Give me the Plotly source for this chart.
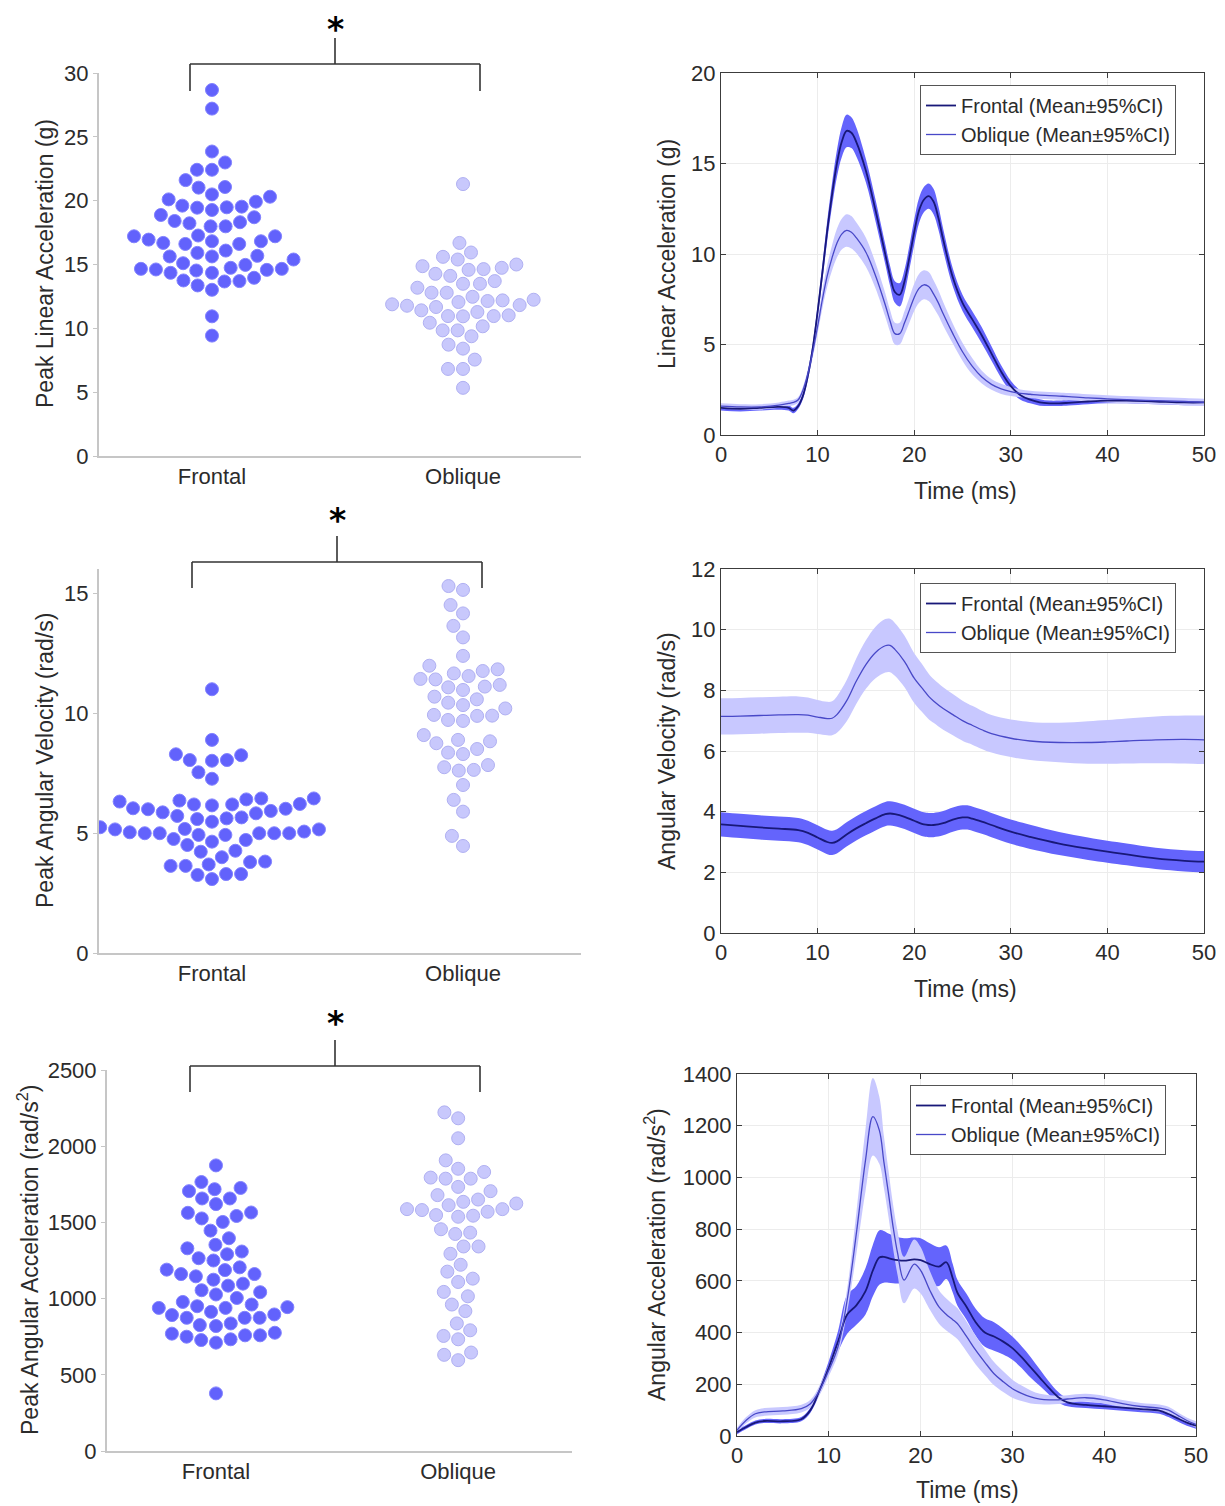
import numpy as np
import plotly.graph_objects as go

W, H = 1225, 1506          # reference page size
OFF = 8                    # page body margin of the browser
FW, FH = W - OFF, H - OFF  # figure size so that it ends at the window edge
FONT = "Liberation Sans, Arial, Helvetica, sans-serif"

# ---------------- data: peak values (beeswarm panels) ----------------
categories = ["Frontal", "Oblique"]

peak_lin_frontal = [28.67, 27.21, 23.85, 22.99, 22.42, 22.42, 21.61, 21.02, 21.07, 20.49, 20.31, 20.10,
                    19.92, 19.53, 19.45, 19.27, 19.48, 19.61, 18.70, 18.31, 18.23, 17.99, 17.99, 18.41,
                    18.88, 17.21, 16.82, 16.61, 17.21, 16.61, 16.95, 16.69, 16.82, 17.27, 15.63, 15.91,
                    15.39, 15.63, 16.09, 15.10, 15.68, 14.74, 14.66, 14.35, 14.97, 14.53, 14.35, 14.61,
                    14.58, 14.66, 13.75, 13.36, 13.02, 13.67, 13.70, 13.96, 10.94, 9.43]
peak_lin_oblique = [21.30, 16.69, 15.94, 15.39, 15.60, 15.00, 14.74, 14.58, 14.27, 14.11, 14.64, 14.87,
                    13.49, 13.49, 13.18, 13.70, 12.79, 12.79, 12.47, 12.24, 11.82, 12.19, 12.14, 12.06,
                    11.77, 11.41, 11.67, 11.88, 11.02, 10.96, 11.28, 10.94, 10.96, 10.44, 10.16, 9.84,
                    9.38, 9.84, 8.72, 8.41, 7.55, 6.82, 6.82, 5.34]

peak_vel_frontal = [10.99, 8.88, 8.28, 8.04, 8.01, 8.04, 8.24, 7.53, 7.26, 6.44, 6.03, 5.99, 6.44, 5.86,
                    6.31, 6.19, 5.61, 6.15, 6.40, 6.19, 6.35, 5.71, 5.58, 5.82, 5.47, 5.65, 5.92, 6.01,
                    6.21, 5.17, 5.03, 4.99, 4.99, 4.92, 4.71, 4.64, 5.24, 5.15, 4.92, 5.15, 4.75, 4.99,
                    4.99, 4.99, 5.06, 4.50, 4.22, 4.26, 3.99, 3.79, 3.81, 3.63, 3.63, 3.69, 3.25, 3.08,
                    3.29, 3.29]
peak_vel_oblique = [15.29, 15.13, 14.50, 14.15, 13.63, 13.15, 12.38, 11.82, 11.75, 11.65, 11.97, 11.40,
                    11.54, 11.42, 11.10, 11.07, 10.96, 11.17, 10.68, 10.57, 10.33, 10.43, 9.92, 9.88,
                    9.67, 9.71, 9.89, 10.19, 9.08, 8.74, 8.88, 8.35, 8.29, 8.50, 8.82, 7.74, 7.60, 7.63,
                    7.83, 7.00, 6.38, 5.89, 4.88, 4.46]

peak_acc_frontal = [1874, 1726, 1765, 1718, 1657, 1657, 1705, 1620, 1542, 1563, 1503, 1526, 1565, 1446,
                    1396, 1330, 1353, 1309, 1265, 1250, 1291, 1190, 1187, 1205, 1146, 1124, 1161, 1161,
                    1085, 1055, 1042, 1098, 1027, 1004, 944, 913, 896, 874, 837, 950, 939, 978, 820, 874,
                    874, 892, 939, 961, 826, 776, 759, 750, 728, 711, 733, 759, 770, 378]
peak_acc_oblique = [2222, 2183, 2052, 1907, 1794, 1787, 1787, 1831, 1852, 1733, 1705, 1679, 1650, 1624,
                    1587, 1570, 1548, 1537, 1587, 1544, 1581, 1613, 1635, 1433, 1424, 1455, 1342, 1294,
                    1342, 1222, 1177, 1131, 1109, 1015, 1044, 961, 918, 837, 755, 733, 792, 631, 596, 646]

# ---------------- data: time histories (mean and 95% CI half-width) ----------------
t_lin = [0, 2, 4, 6, 7, 7.5, 8, 8.5, 9, 9.5, 10, 10.5, 11, 11.5, 12, 12.5, 13, 13.5, 14, 15, 16, 17,
         17.5, 18, 18.5, 19, 19.5, 20, 20.5, 21, 21.5, 22, 22.5, 23, 24, 25, 26, 27, 28, 29, 30, 31,
         32, 33, 34, 35, 36, 38, 40, 42, 45, 48, 50]
lin_frontal_mean = [1.5, 1.45, 1.5, 1.55, 1.5, 1.35, 1.6, 2.2, 3.3, 4.8, 6.8, 9.0, 11.3, 13.3, 15.0,
                    16.2, 16.8, 16.7, 16.2, 14.6, 12.4, 10.0, 8.8, 7.9, 7.75, 8.5, 9.8, 11.2, 12.4,
                    13.0, 13.2, 12.9, 12.0, 10.8, 8.7, 7.3, 6.4, 5.5, 4.5, 3.5, 2.7, 2.2, 1.95, 1.8,
                    1.75, 1.75, 1.78, 1.85, 1.9, 1.9, 1.85, 1.8, 1.8]
lin_frontal_ci = [0.15, 0.15, 0.15, 0.15, 0.15, 0.15, 0.15, 0.2, 0.25, 0.3, 0.35, 0.45, 0.55, 0.65,
                  0.75, 0.85, 0.9, 0.85, 0.8, 0.65, 0.6, 0.55, 0.55, 0.6, 0.65, 0.65, 0.65, 0.7, 0.7,
                  0.7, 0.7, 0.7, 0.65, 0.6, 0.5, 0.45, 0.45, 0.45, 0.4, 0.35, 0.3, 0.25, 0.2, 0.18,
                  0.15, 0.15, 0.15, 0.15, 0.15, 0.15, 0.15, 0.15, 0.15]
lin_oblique_mean = [1.6, 1.55, 1.55, 1.65, 1.75, 1.8, 1.95, 2.5, 3.4, 4.6, 6.0, 7.5, 8.8, 9.8, 10.6,
                    11.1, 11.3, 11.2, 10.9, 10.1, 8.8, 7.2, 6.3, 5.6, 5.6, 6.2, 6.9, 7.6, 8.1, 8.3,
                    8.2, 7.8, 7.3, 6.7, 5.6, 4.6, 3.8, 3.2, 2.8, 2.55, 2.4, 2.3, 2.25, 2.2, 2.18, 2.15,
                    2.12, 2.05, 2.0, 1.95, 1.9, 1.85, 1.8]
lin_oblique_ci = [0.15, 0.15, 0.15, 0.15, 0.15, 0.15, 0.15, 0.2, 0.25, 0.3, 0.4, 0.5, 0.6, 0.7, 0.8,
                  0.85, 0.9, 0.9, 0.85, 0.8, 0.7, 0.65, 0.6, 0.6, 0.6, 0.65, 0.7, 0.75, 0.8, 0.8,
                  0.8, 0.75, 0.7, 0.65, 0.55, 0.5, 0.45, 0.35, 0.3, 0.28, 0.25, 0.22, 0.2, 0.2, 0.2,
                  0.2, 0.2, 0.2, 0.2, 0.2, 0.2, 0.2, 0.2]

t_vel = [0, 2, 4, 6, 8, 9, 10, 11, 11.5, 12, 13, 14, 15, 16, 17, 17.5, 18, 19, 20, 21, 21.5, 22, 23,
         24, 25, 25.5, 26, 27, 28, 30, 32, 35, 38, 40, 42, 45, 48, 50]
vel_oblique_mean = [7.14, 7.15, 7.17, 7.19, 7.2, 7.18, 7.12, 7.07, 7.08, 7.2, 7.65, 8.3, 8.85, 9.25,
                    9.47, 9.48, 9.35, 8.95, 8.4, 8.0, 7.8, 7.65, 7.4, 7.2, 7.0, 6.92, 6.85, 6.7, 6.57,
                    6.42, 6.33, 6.28, 6.28, 6.3, 6.33, 6.37, 6.38, 6.37]
vel_oblique_ci = [0.6, 0.6, 0.6, 0.6, 0.6, 0.58, 0.56, 0.55, 0.56, 0.6, 0.68, 0.75, 0.8, 0.85, 0.88,
                  0.88, 0.87, 0.85, 0.82, 0.78, 0.75, 0.72, 0.7, 0.68, 0.66, 0.65, 0.64, 0.63, 0.62,
                  0.62, 0.63, 0.65, 0.7, 0.72, 0.74, 0.77, 0.79, 0.8]
vel_frontal_mean = [3.58, 3.53, 3.48, 3.44, 3.39, 3.3, 3.15, 3.0, 2.97, 3.02, 3.25, 3.45, 3.62, 3.78,
                    3.92, 3.94, 3.92, 3.83, 3.7, 3.58, 3.56, 3.56, 3.62, 3.74, 3.81, 3.81, 3.77, 3.67,
                    3.56, 3.34, 3.17, 2.95, 2.78, 2.68, 2.59, 2.46, 2.38, 2.35]
vel_frontal_ci = [0.4] * 29 + [0.4, 0.4, 0.38, 0.37, 0.36, 0.36, 0.35, 0.35, 0.35]

t_acc = [0, 1, 2, 3, 5, 7, 8, 9, 10, 11, 12, 13, 14, 14.8, 15.5, 16, 16.5, 17, 17.5, 18.2, 19.3, 20,
         21, 22, 22.8, 23.5, 24, 25, 26, 27, 28, 29, 30, 31, 32, 33, 34, 35, 36, 38, 40, 42, 44, 46,
         47, 48, 49, 50]
acc_oblique_mean = [22, 61, 86, 93, 97, 106, 125, 177, 254, 345, 525, 783, 1067, 1235, 1183, 1060,
                    938, 810, 706, 603, 665, 641, 564, 499, 470, 450, 435, 385, 332, 285, 241, 210,
                    183, 165, 151, 143, 140, 140, 143, 148, 140, 125, 114, 108, 100, 80, 60, 45]
acc_oblique_ci = [10, 12, 14, 15, 15, 15, 15, 18, 22, 30, 45, 80, 120, 150, 130, 100, 90, 85, 85, 90,
                  95, 90, 75, 65, 62, 60, 60, 58, 55, 50, 45, 40, 35, 30, 25, 20, 18, 16, 15, 15, 15,
                  14, 14, 14, 13, 12, 12, 12]
acc_frontal_mean = [15, 35, 52, 58, 57, 65, 100, 177, 265, 365, 470, 505, 560, 640, 690, 693, 688,
                    683, 680, 678, 683, 680, 665, 655, 672, 610, 555, 500, 440, 400, 385, 365, 340,
                    305, 265, 225, 185, 150, 130, 120, 115, 110, 104, 98, 85, 68, 52, 40]
acc_frontal_ci = [8, 8, 8, 8, 8, 8, 10, 15, 25, 40, 75, 75, 90, 100, 105, 100, 95, 92, 90, 87, 85,
                  85, 80, 75, 65, 55, 50, 50, 52, 55, 55, 50, 45, 42, 40, 32, 25, 20, 15, 12, 12, 12,
                  12, 12, 12, 12, 12, 12]

# ---------------- styling ----------------
C_FRONT_DOT = "rgb(98,98,252)"
C_FRONT_DOT_EDGE = "rgb(130,130,255)"
C_OBL_DOT = "rgb(200,200,252)"
C_OBL_DOT_EDGE = "rgb(176,176,242)"
C_FRONT_BAND = "rgb(100,100,252)"
C_FRONT_LINE = "rgb(24,24,120)"
C_OBL_BAND = "rgb(200,200,255)"
C_OBL_LINE = "rgb(72,72,200)"
TXT = "#2b2b2b"


def px(x):
    return (x - OFF) / FW


def py(y):
    return 1 - (y - OFF) / FH


# panel boxes in page pixels: (left, right, top, bottom)
boxes = {
    1: (99, 581, 73, 456),
    2: (99, 581, 569, 953),
    3: (107, 572, 1070, 1451),
    4: (721, 1204, 73, 435),
    5: (721, 1204, 569, 933),
    6: (737, 1196, 1074, 1436),
}
left_yranges = {1: (0, 30), 2: (0, 16), 3: (0, 2500)}
left_dticks = {1: 5, 2: 5, 3: 500}
XR = (0.55, 2.47)


def swarm_offsets(values, ppu_y, ppu_x, d=15.0):
    vals = np.asarray(values, float)
    order = np.argsort(vals)
    placed = []
    offs = np.zeros(len(vals))
    for i in order:
        y = vals[i] * ppu_y
        cands = [0.0]
        for (qx, qy) in placed:
            dy = y - qy
            if abs(dy) < d:
                dx = np.sqrt(d * d - dy * dy)
                cands += [qx + dx, qx - dx]
        best = None
        for c in sorted(cands, key=lambda v: (abs(v), v)):
            ok = all((c - qx) ** 2 + (y - qy) ** 2 >= d * d - 1e-6 for (qx, qy) in placed)
            if ok:
                best = c
                break
        placed.append((best, y))
        offs[i] = best / ppu_x
    return offs


fig = go.Figure()

swarm_sets = {
    1: (peak_lin_frontal, peak_lin_oblique),
    2: (peak_vel_frontal, peak_vel_oblique),
    3: (peak_acc_frontal, peak_acc_oblique),
}
for k, (fr, ob) in swarm_sets.items():
    l, r, t, b = boxes[k]
    y0, y1 = left_yranges[k]
    ppu_y = (b - t) / (y1 - y0)
    ppu_x = (r - l) / (XR[1] - XR[0])
    sfx = "" if k == 1 else str(k)
    for idx, (vals, col, edge) in enumerate([(fr, C_FRONT_DOT, C_FRONT_DOT_EDGE),
                                             (ob, C_OBL_DOT, C_OBL_DOT_EDGE)]):
        offs = swarm_offsets(vals, ppu_y, ppu_x)
        fig.add_trace(go.Scatter(
            x=(idx + 1) + offs, y=vals, mode="markers", showlegend=False,
            marker=dict(size=13, color=col, line=dict(color=edge, width=1)),
            xaxis="x" + sfx, yaxis="y" + sfx, hoverinfo="skip"))

series_sets = {
    4: (t_lin, lin_frontal_mean, lin_frontal_ci, lin_oblique_mean, lin_oblique_ci),
    5: (t_vel, vel_frontal_mean, vel_frontal_ci, vel_oblique_mean, vel_oblique_ci),
    6: (t_acc, acc_frontal_mean, acc_frontal_ci, acc_oblique_mean, acc_oblique_ci),
}
legend_names = {4: "legend", 5: "legend2", 6: "legend3"}
for k, (tt, fm, fc, om, oc) in series_sets.items():
    ax = dict(xaxis="x" + str(k), yaxis="y" + str(k))
    leg = legend_names[k]
    fm, fc, om, oc = map(np.asarray, (fm, fc, om, oc))
    for mean, ci, band in [(fm, fc, C_FRONT_BAND), (om, oc, C_OBL_BAND)]:
        fig.add_trace(go.Scatter(x=tt, y=mean - ci, mode="lines", line=dict(width=0, shape="spline"),
                                 showlegend=False, hoverinfo="skip", legend=leg, **ax))
        fig.add_trace(go.Scatter(x=tt, y=mean + ci, mode="lines", line=dict(width=0, shape="spline"),
                                 fill="tonexty", fillcolor=band, showlegend=False, hoverinfo="skip",
                                 legend=leg, **ax))
    fig.add_trace(go.Scatter(x=tt, y=fm, mode="lines", name="Frontal (Mean±95%CI)",
                             line=dict(color=C_FRONT_LINE, width=1.8, shape="spline"),
                             legend=leg, **ax))
    fig.add_trace(go.Scatter(x=tt, y=om, mode="lines", name="Oblique (Mean±95%CI)",
                             line=dict(color=C_OBL_LINE, width=1.3, shape="spline"),
                             legend=leg, **ax))

layout = dict(
    width=FW, height=FH, margin=dict(l=0, r=0, t=0, b=0, autoexpand=False),
    paper_bgcolor="white", plot_bgcolor="white",
    font=dict(family=FONT, size=21, color=TXT),
)

TICKF = dict(size=22, color=TXT)
for k in range(1, 7):
    l, r, t, b = boxes[k]
    sfx = "" if k == 1 else str(k)
    xa = dict(domain=[px(l), px(r)], anchor="y" + sfx, zeroline=False)
    ya = dict(domain=[py(b), py(t)], anchor="x" + sfx, zeroline=False)
    if k <= 3:
        xa.update(range=list(XR), tickvals=[1, 2], ticktext=categories, showgrid=False,
                  showline=True, linecolor="#c6c6c6", linewidth=2, ticks="",
                  tickfont=TICKF)
        ya.update(range=list(left_yranges[k]), dtick=left_dticks[k], showgrid=False,
                  showline=True, linecolor="#c6c6c6", linewidth=2, ticks="outside",
                  ticklen=4, tickcolor="#c6c6c6", tickfont=TICKF)
    else:
        yr = {4: (0, 20), 5: (0, 12), 6: (0, 1400)}[k]
        yd = {4: 5, 5: 2, 6: 200}[k]
        common = dict(showgrid=True, gridcolor="rgb(236,236,236)", gridwidth=1, showline=True,
                      linecolor="#3c3c3c", linewidth=1, mirror="ticks", ticks="inside",
                      ticklen=5, tickcolor="#3c3c3c", tickfont=TICKF)
        xa.update(range=[0, 50], dtick=10, **common)
        ya.update(range=list(yr), dtick=yd, **common)
    layout["xaxis" + sfx] = xa
    layout["yaxis" + sfx] = ya

legend_pos = {"legend": (920, 85), "legend2": (920, 583), "legend3": (910, 1085)}
for name, (lx, ly) in legend_pos.items():
    layout[name] = dict(x=px(lx), y=py(ly), xanchor="left", yanchor="top",
                        bgcolor="white", bordercolor="#555555", borderwidth=1,
                        font=dict(size=20, color=TXT), tracegroupgap=0,
                        traceorder="normal", itemwidth=30)

annotations = []
shapes = []
# axis titles
for txt, x, y in [("Peak Linear Acceleration (g)", 45, 264),
                  ("Peak Angular Velocity (rad/s)", 45, 761),
                  ("Peak Angular Acceleration (rad/s<sup>2</sup>)", 28, 1260),
                  ("Linear Acceleration (g)", 667, 254),
                  ("Angular Velocity (rad/s)", 667, 751),
                  ("Angular Acceleration (rad/s<sup>2</sup>)", 655, 1255)]:
    annotations.append(dict(text=txt, x=px(x), y=py(y), xref="paper", yref="paper",
                            textangle=-90, showarrow=False, xanchor="center", yanchor="middle",
                            font=dict(size=23, color=TXT)))
for x, y in [(965, 491), (965, 989), (967, 1490)]:
    annotations.append(dict(text="Time (ms)", x=px(x), y=py(y), xref="paper", yref="paper",
                            showarrow=False, xanchor="center", yanchor="middle",
                            font=dict(size=23, color=TXT)))

# significance brackets (asterisk text box anchored by its top edge)
for (xl, xr, xc, yh, yv, yt, ya) in [(190, 480, 335, 64, 91, 38, 8),
                                     (192, 482, 337, 562, 588, 536, 499),
                                     (190, 480, 335, 1066, 1092, 1040, 1002)]:
    line = dict(color="#333333", width=1.6)
    for (x0, y0, x1, y1) in [(xl, yh, xr, yh), (xl, yh, xl, yv), (xr, yh, xr, yv), (xc, yt, xc, yh)]:
        shapes.append(dict(type="line", xref="paper", yref="paper", x0=px(x0), y0=py(y0),
                           x1=px(x1), y1=py(y1), line=line))
    annotations.append(dict(text="<b>*</b>", x=px(xc), y=py(ya), xref="paper", yref="paper",
                            showarrow=False, xanchor="center", yanchor="top",
                            font=dict(size=33, color="black", family="DejaVu Sans")))

layout["annotations"] = annotations
layout["shapes"] = shapes
fig.update_layout(**layout)
fig.write_html("out.html")
